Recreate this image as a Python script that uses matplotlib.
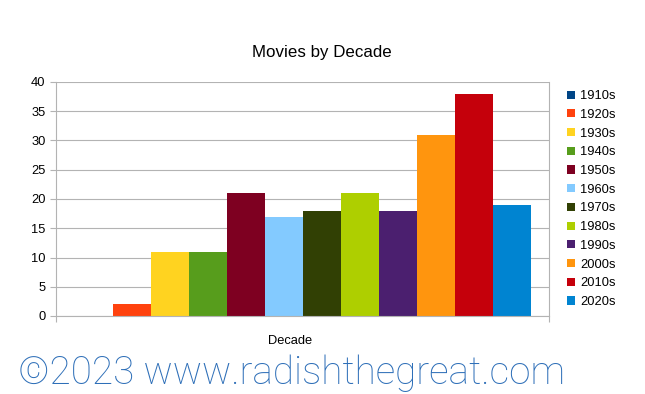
import matplotlib.pyplot as plt
from matplotlib.patches import Patch
import numpy as np

plt.rcParams['font.family'] = ['Liberation Sans', 'DejaVu Sans']

# movies per decade
decades = ['1910s', '1920s', '1930s', '1940s', '1950s', '1960s',
           '1970s', '1980s', '1990s', '2000s', '2010s', '2020s']
counts = [0, 2, 11, 11, 21, 17, 18, 21, 18, 31, 38, 19]
colors = ['#004586', '#ff420e', '#ffd320', '#579d1c', '#7e0021', '#83caff',
          '#314004', '#aecf00', '#4b1f6f', '#ff950e', '#c5000b', '#0084d1']

fig = plt.figure(figsize=(6.45, 3.94), dpi=100)
W, H = 645, 394
ax = fig.add_axes([56 / W, 1 - 316 / H, (549 - 56) / W, (316 - 82) / H])

# one category, bars side by side
group_w = 456 / 493
bar_w = group_w / len(decades)
x0 = -group_w / 2
for i, (d, c, col) in enumerate(zip(decades, counts, colors)):
    ax.bar(x0 + bar_w * (i + 0.5), c, width=bar_w, color=col, label=d)

ax.set_xlim(-0.5, 0.5)
ax.set_ylim(0, 40)
ax.set_yticks(np.arange(0, 41, 5))
ax.set_xticks([-0.5, 0.5])
ax.set_xticklabels(['', ''])
ax.grid(axis='y', color='#b3b3b3', linewidth=0.8)
ax.set_axisbelow(True)
ax.spines['top'].set_visible(False)
for s in ['left', 'bottom', 'right']:
    ax.spines[s].set_color('#b3b3b3')
ax.tick_params(axis='both', colors='#b3b3b3', labelcolor='black', labelsize=9.3, length=4)

fig.text(290 / W, 1 - 341 / H, 'Decade', fontsize=9.3, ha='center', va='center')
fig.text(322 / W, 1 - 53 / H, 'Movies by Decade', fontsize=12.2, ha='center', va='center')

handles = [Patch(facecolor=col, label=d) for d, col in zip(decades, colors)]
fig.legend(handles=handles, loc='upper left', bbox_to_anchor=(562 / W, 1 - 85 / H),
           frameon=False, fontsize=9.3, handlelength=0.6, handleheight=0.6,
           handletextpad=0.4, labelspacing=0.52, borderaxespad=0)

fig.text(18 / W, 1 - 384 / H, '\u00a92023 www.radishthegreat.com', fontsize=27.8,
         family='Roboto', fontweight='light', color='#2e6fb8')

fig.savefig('out.png', dpi=100)
